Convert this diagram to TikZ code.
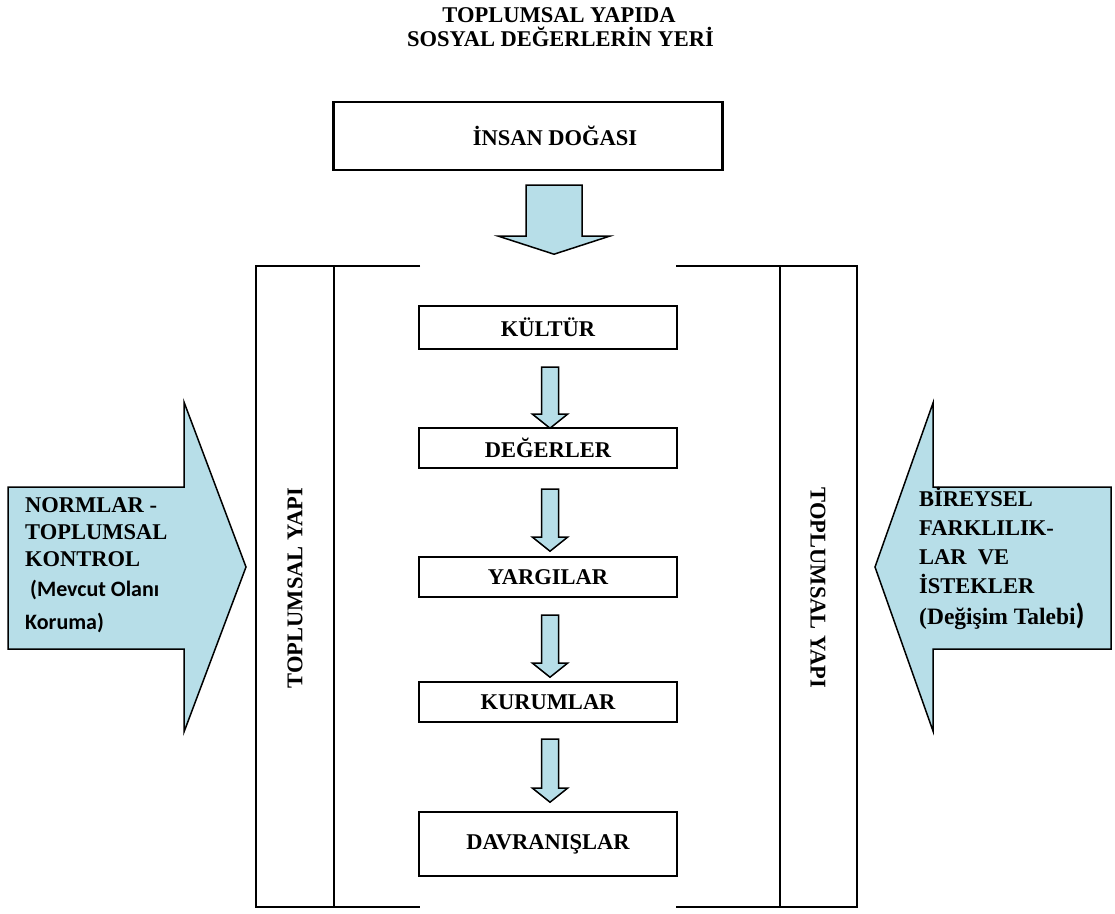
\documentclass[tikz,border=0pt]{standalone}
\usepackage{fontspec}
\setmainfont{Liberation Serif}
\newfontfamily\calfont{Carlito}
\usetikzlibrary{calc}
\definecolor{aqua}{HTML}{B7DEE8}
\tikzset{
  box/.style={draw, line width=2.4pt, minimum width=258pt, inner sep=0pt, font=\bfseries\fontsize{22.5}{26}\selectfont},
  blk/.style={draw, line width=1.5pt, fill=aqua, line join=miter},
  frameline/.style={line width=2.6pt},
  lbl/.style={font=\bfseries\fontsize{22.5}{26}\selectfont, inner sep=0pt},
  cal/.style={font=\calfont\bfseries\fontsize{22}{26}\selectfont, inner sep=0pt},
}
\newcommand\blockarrow[5]{% #1 shaft-top point, #2 length, #3 shaft half width, #4 head half width, #5 head length
  \draw[blk] ($#1+(-#3,0)$) -- ($#1+(#3,0)$) -- ($#1+(#3,#2-#5)$) -- ($#1+(#4,#2-#5)$)
    -- ($#1+(0,#2)$) -- ($#1+(-#4,#2-#5)$) -- ($#1+(-#3,#2-#5)$) -- cycle;}
\begin{document}
\begin{tikzpicture}[x=1pt,y=-1pt]
\useasboundingbox (0,0) rectangle (1115,913);

% title
\node[lbl, anchor=base] (t1) at (559,22) {TOPLUMSAL YAPIDA};
\node[lbl, anchor=base] (t2) at (560.5,46) {SOSYAL DEĞERLERİN YERİ};

% human nature box
\node[box, minimum width=389pt, minimum height=68pt] (insan) at (528,136) {\hspace*{54pt}İNSAN DOĞASI};
\blockarrow{(insan.south)+(26,14)}{69}{28}{55.5}{18}

% frame
\coordinate (tl) at (256,266); \coordinate (bl) at (256,907);
\coordinate (tr) at (857,266); \coordinate (br) at (857,907);
\draw[frameline] (420,266) -- (tl) -- (bl) -- (420,907);
\draw[frameline] (676,266) -- (tr) -- (br) -- (676,907);
\draw[frameline] (334,266) -- (334,907);
\draw[frameline] (780,266) -- (780,907);
\node[lbl, rotate=90] (lyapi) at (295,588) {TOPLUMSAL YAPI};
\node[lbl, rotate=-90] (ryapi) at (818,588) {TOPLUMSAL YAPI};

% chain
\node[box, minimum height=43pt] (kultur) at (548,327.5) {KÜLTÜR};
\node[box, minimum height=40pt] (deger) at (548,448) {DEĞERLER};
\node[box, minimum height=40pt] (yargi) at (548,577) {YARGILAR};
\node[box, minimum height=40pt] (kurum) at (548,702) {KURUMLAR};
\node[box, minimum height=64pt] (davran) at (548,844) {DAVRANIŞLAR};
\blockarrow{(kultur.south)+(2,17)}{61}{8.5}{17.5}{14}
\blockarrow{(deger.south)+(2,20)}{62}{8.5}{17.5}{14}
\blockarrow{(yargi.south)+(2,17)}{62}{8.5}{17.5}{14}
\blockarrow{(kurum.south)+(2,16)}{63}{8.5}{17.5}{14}

% left side arrow
\draw[blk] (8,487) -- (184,487) -- (184,402) -- (246,567) -- (184,732) -- (184,649) -- (8,649) -- cycle;
\node[lbl, anchor=base west] (n1) at (25,512) {NORMLAR -};
\node[lbl, anchor=base west] (n2) at (25,539) {TOPLUMSAL};
\node[lbl, anchor=base west] (n3) at (25,566) {KONTROL};
\node[cal, anchor=base west] (n4) at (25,596) {\ (Mevcut Olanı};
\node[cal, anchor=base west] (n5) at (25,629) {Koruma)};

% right side arrow
\draw[blk] (1111,487) -- (933,487) -- (933,403) -- (875,567) -- (933,731) -- (933,649) -- (1111,649) -- cycle;
\node[lbl, anchor=base west] (b1) at (919,506) {BİREYSEL};
\node[lbl, anchor=base west] (b2) at (919,535) {FARKLILIK-};
\node[lbl, anchor=base west] (b3) at (919,564) {LAR\ \ VE};
\node[lbl, anchor=base west] (b4) at (919,593) {İSTEKLER};
\node[lbl, anchor=base west, font=\bfseries\fontsize{23.5}{26}\selectfont] (b5) at (919,624) {(Değişim Talebi{\calfont\bfseries\fontsize{29}{30}\selectfont)}};
\end{tikzpicture}
\end{document}
